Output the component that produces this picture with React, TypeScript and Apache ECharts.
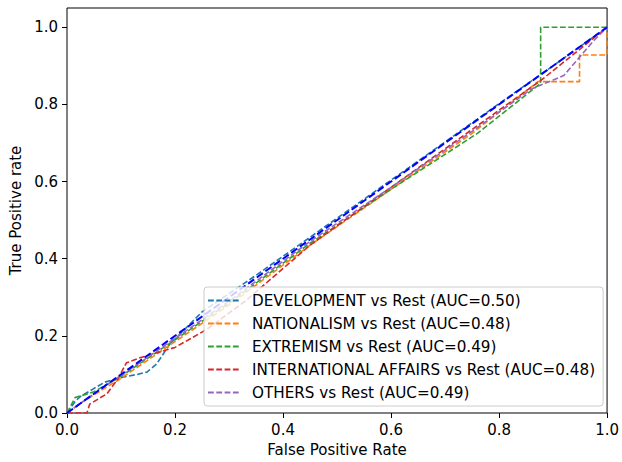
import React, { useEffect, useRef } from "react";
import * as echarts from "echarts";

const tickValues = [0, 0.2, 0.4, 0.6, 0.8, 1.0];

const seriesNames = [
  "DEVELOPMENT vs Rest (AUC=0.50)",
  "NATIONALISM vs Rest (AUC=0.48)",
  "EXTREMISM vs Rest (AUC=0.49)",
  "INTERNATIONAL AFFAIRS vs Rest (AUC=0.48)",
  "OTHERS vs Rest (AUC=0.49)",
];
const seriesColors = ["#1f77b4", "#ff7f0e", "#2ca02c", "#d62728", "#9467bd"];

const fprDev = [0, 0.015, 0.024, 0.048, 0.07, 0.103, 0.13, 0.148, 0.166, 0.19, 0.25, 0.35, 0.5, 0.65, 0.8, 0.9, 1];
const tprDev = [0, 0.03, 0.042, 0.062, 0.08, 0.093, 0.1, 0.106, 0.127, 0.178, 0.262, 0.357, 0.505, 0.653, 0.802, 0.9, 1];

const fprNat = [0, 0.03, 0.1, 0.2, 0.3, 0.45, 0.6, 0.75, 0.872, 0.949, 0.949, 1, 1];
const tprNat = [0, 0.03, 0.09, 0.185, 0.28, 0.435, 0.58, 0.725, 0.859, 0.859, 0.928, 0.928, 1];

const fprExt = [0, 0.015, 0.05, 0.1, 0.2, 0.3, 0.45, 0.6, 0.76, 0.877, 0.877, 1];
const tprExt = [0, 0.04, 0.055, 0.095, 0.19, 0.285, 0.44, 0.58, 0.725, 0.855, 1, 1];

const fprInt = [0, 0.037, 0.042, 0.074, 0.094, 0.11, 0.135, 0.2, 0.258, 0.33, 0.45, 0.6, 0.75, 0.88, 1];
const tprInt = [0, 0, 0.023, 0.05, 0.088, 0.13, 0.143, 0.17, 0.216, 0.29, 0.435, 0.585, 0.735, 0.865, 1];

const fprOth = [0, 0.05, 0.15, 0.3, 0.45, 0.6, 0.75, 0.86, 0.92, 0.975, 1];
const tprOth = [0, 0.05, 0.145, 0.29, 0.445, 0.585, 0.73, 0.84, 0.875, 0.965, 1];

const fprDiag = [0, 1];
const tprDiag = [0, 1];

const allFpr = [fprDev, fprNat, fprExt, fprInt, fprOth];
const allTpr = [tprDev, tprNat, tprExt, tprInt, tprOth];

const FONT = "DejaVu Sans";

export default function App() {
  const ref = useRef<HTMLDivElement>(null);
  useEffect(() => {
    if (!ref.current) return;
    document.body.style.margin = "0";
    const chart = echarts.init(ref.current, undefined, { renderer: "svg" });
    const pairs = (xs: number[], ys: number[]) => xs.map((x, i) => [x, ys[i]]);
    const series: any[] = seriesNames.map((name, i) => ({
      name,
      type: "line",
      data: pairs(allFpr[i], allTpr[i]),
      symbol: "none",
      showSymbol: false,
      color: seriesColors[i],
      lineStyle: { color: seriesColors[i], width: 1.6, type: [5.8, 2.5] },
    }));
    series.push({
      name: "diag",
      type: "line",
      data: pairs(fprDiag, tprDiag),
      symbol: "none",
      showSymbol: false,
      color: "#0000ff",
      lineStyle: { color: "#0000ff", width: 2, type: [7.4, 3.2] },
    });
    chart.setOption({
      animation: false,
      grid: {
        left: 67,
        right: 13,
        top: 8,
        bottom: 48,
        show: true,
        borderColor: "#000",
        borderWidth: 1,
        backgroundColor: "transparent",
      },
      xAxis: {
        type: "value",
        min: 0,
        max: 1,
        interval: 0.2,
        name: "False Positive Rate",
        nameLocation: "middle",
        nameGap: 29,
        nameTextStyle: { fontFamily: FONT, fontSize: 15, color: "#000" },
        axisLine: { show: false },
        axisTick: { show: true, length: 5, lineStyle: { color: "#000" } },
        axisLabel: {
          margin: 9,
          fontFamily: FONT,
          fontSize: 15,
          color: "#000",
          showMaxLabel: true,
          showMinLabel: true,
          formatter: (v: number) => v.toFixed(1),
        },
        splitLine: { show: false },
      },
      yAxis: {
        type: "value",
        min: 0,
        max: 1.05,
        name: "True Positive rate",
        nameLocation: "middle",
        nameGap: 42,
        nameRotate: 90,
        nameTextStyle: { fontFamily: FONT, fontSize: 15, color: "#000" },
        axisLine: { show: false },
        axisTick: { show: true, length: 5, lineStyle: { color: "#000" }, customValues: tickValues },
        axisLabel: {
          margin: 9,
          fontFamily: FONT,
          fontSize: 15,
          color: "#000",
          customValues: tickValues,
          formatter: (v: number) => v.toFixed(1),
        },
        splitLine: { show: false },
      },
      legend: {
        data: seriesNames,
        orient: "vertical",
        left: 204,
        top: 287,
        padding: [6, 8, 6, 3],
        itemWidth: 32,
        itemHeight: 14,
        itemGap: 8,
        borderColor: "#cccccc",
        borderWidth: 1,
        borderRadius: 3,
        backgroundColor: "rgba(255,255,255,0.8)",
        itemStyle: { opacity: 0 },
        textStyle: { fontFamily: FONT, fontSize: 15.2, color: "#000", padding: [0, 0, 0, 7] },
      },
      series,
    });
    return () => chart.dispose();
  }, []);
  return <div ref={ref} style={{ width: 622, height: 462 }} />;
}
